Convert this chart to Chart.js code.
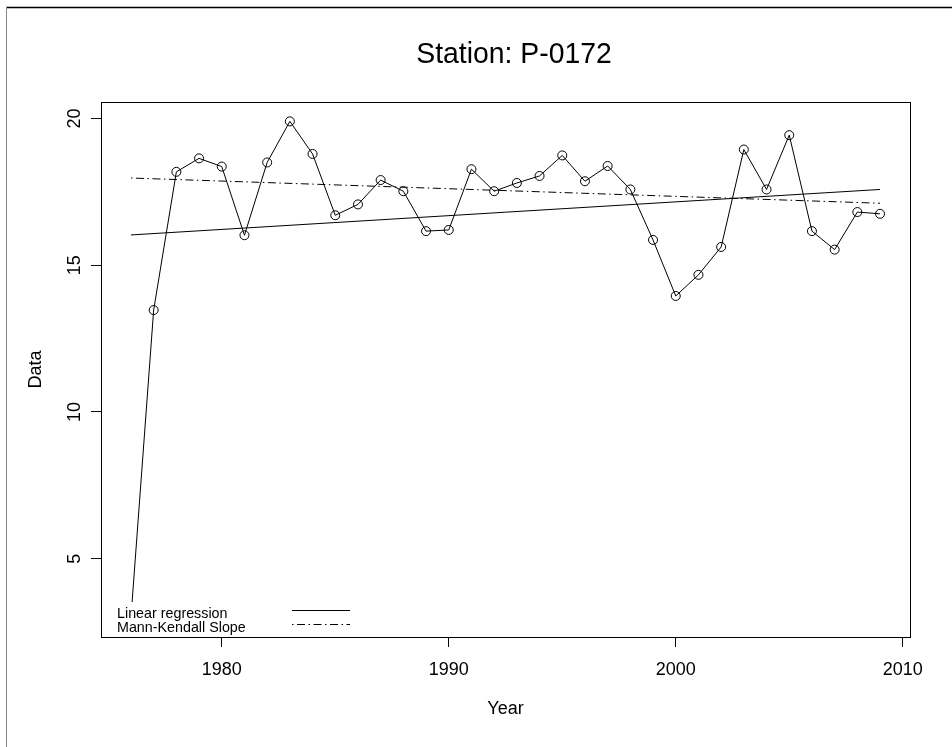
<!DOCTYPE html>
<html>
<head>
<meta charset="utf-8">
<script src="https://cdn.jsdelivr.net/npm/chart.js@4.4.0/dist/chart.umd.min.js"></script>
<style>
html, body { margin: 0; padding: 0; background: #fff; }
</style>
</head>
<body>
<canvas id="stationChart" width="952" height="747"></canvas>
<script>
const years = [1976, 1977, 1978, 1979, 1980, 1981, 1982, 1983, 1984, 1985, 1986, 1987,
    1988, 1989, 1990, 1991, 1992, 1993, 1994, 1995, 1996, 1997, 1998, 1999,
    2000, 2001, 2002, 2003, 2004, 2005, 2006, 2007, 2008, 2009];
const values = [3.0, 13.47, 18.18, 18.64, 18.36, 16.02, 18.50, 19.90, 18.79, 16.70, 17.07, 17.90,
    17.52, 16.16, 16.20, 18.27, 17.52, 17.80, 18.04, 18.74, 17.86, 18.38, 17.58, 15.86,
    13.95, 14.67, 15.62, 18.94, 17.58, 19.43, 16.16, 15.53, 16.81, 16.75];

// end points of the two trend lines
const trendYears = [1976, 2009];
const regressionValues = [16.03, 17.58];
const mannKendallValues = [17.97, 17.11];

const xTicks = [1980, 1990, 2000, 2010];
const yTicks = [5, 10, 15, 20];

const font = "'Liberation Sans', Arial, sans-serif";
const dotDash = [1.5, 3.5, 8, 3.5];

function toPoints(xs, ys) {
    return xs.map((x, i) => ({ x: x, y: ys[i] }))
}

// base-R look: outer frame, box, rotated y labels, title, legend
const rStyle = {
    id: 'rStyle',
    beforeDraw(chart) {
        const ctx = chart.ctx;
        ctx.save();
        ctx.strokeStyle = '#000';
        ctx.lineWidth = 1.5;
        ctx.beginPath();
        ctx.moveTo(6, 7.5);
        ctx.lineTo(952, 7.5);
        ctx.stroke();
        ctx.strokeStyle = '#888';
        ctx.lineWidth = 1;
        ctx.beginPath();
        ctx.moveTo(6.5, 7);
        ctx.lineTo(6.5, 747);
        ctx.stroke();
        ctx.restore();
    },
    afterDatasetsDraw(chart) {
        const ctx = chart.ctx;
        const area = chart.chartArea;
        ctx.save();
        // legend background hides what lies under it, as in the original
        ctx.fillStyle = '#fff';
        ctx.fillRect(area.left + 1, 602, 260, area.bottom - 602 - 1);
        ctx.fillStyle = '#000';
        ctx.font = '14.3px ' + font;
        ctx.textAlign = 'left';
        ctx.textBaseline = 'alphabetic';
        ctx.fillText('Linear regression', 117, 618);
        ctx.fillText('Mann-Kendall Slope', 117, 631.5);
        ctx.strokeStyle = '#000';
        ctx.lineWidth = 1;
        ctx.beginPath();
        ctx.moveTo(292, 610.5);
        ctx.lineTo(350, 610.5);
        ctx.stroke();
        ctx.setLineDash(dotDash);
        ctx.beginPath();
        ctx.moveTo(292, 624.5);
        ctx.lineTo(350, 624.5);
        ctx.stroke();
        ctx.restore();
    },
    afterDraw(chart) {
        const ctx = chart.ctx;
        const area = chart.chartArea;
        const yScale = chart.scales.y;
        ctx.save();
        ctx.strokeStyle = '#000';
        ctx.lineWidth = 1;
        ctx.strokeRect(area.left + 0.5, area.top + 0.5, area.right - area.left, area.bottom - area.top);

        ctx.fillStyle = '#000';
        ctx.font = '18px ' + font;
        ctx.textAlign = 'center';
        ctx.textBaseline = 'middle';
        yTicks.forEach(v => {
            ctx.save();
            ctx.translate(75, yScale.getPixelForValue(v));
            ctx.rotate(-Math.PI / 2);
            ctx.fillText(String(v), 0, 0);
            ctx.restore();
        });

        // title is a little condensed in the original
        ctx.save();
        ctx.translate(514, 55);
        ctx.scale(0.945, 1);
        ctx.font = '30px ' + font;
        ctx.fillText('Station: P-0172', 0, 0);
        ctx.restore();
        ctx.restore();
    }
};

let element = document.getElementById('stationChart')
new Chart(element.getContext('2d'), {
    type: 'line',

    data: {
        datasets: [{
            label: 'Data',
            data: toPoints(years, values),
            borderColor: '#000',
            borderWidth: 1,
            pointRadius: 4.5,
            pointBorderColor: '#000',
            pointBackgroundColor: 'rgba(0,0,0,0)',
            pointBorderWidth: 1,
            fill: false,
            tension: 0
        }, {
            label: 'Linear regression',
            data: toPoints(trendYears, regressionValues),
            borderColor: '#000',
            borderWidth: 1,
            pointRadius: 0,
            fill: false
        }, {
            label: 'Mann-Kendall Slope',
            data: toPoints(trendYears, mannKendallValues),
            borderColor: '#000',
            borderWidth: 1,
            borderDash: dotDash,
            pointRadius: 0,
            fill: false
        }]
    },

    options: {
        responsive: false,
        animation: false,
        layout: { padding: { top: 102, right: 42, left: 0, bottom: 0 } },
        plugins: {
            legend: { display: false },
            tooltip: { enabled: false },
            title: { display: false }
        },
        scales: {
            x: {
                type: 'linear',
                min: 1974.68,
                max: 2010.32,
                afterBuildTicks: scale => { scale.ticks = xTicks.map(v => ({ value: v })) },
                afterFit: scale => { scale.height = 110 },
                grid: { drawOnChartArea: false, drawTicks: true, tickLength: 10, color: '#000' },
                border: { display: true, color: '#000' },
                ticks: {
                    color: '#000',
                    padding: 12,
                    font: { family: font, size: 18 },
                    callback: v => String(v)
                },
                title: {
                    display: true,
                    text: 'Year',
                    color: '#000',
                    font: { family: font, size: 18 },
                    padding: { top: 0, bottom: 27 }
                }
            },
            y: {
                type: 'linear',
                min: 2.33,
                max: 20.56,
                afterBuildTicks: scale => { scale.ticks = yTicks.map(v => ({ value: v })) },
                afterFit: scale => { scale.width = 101 },
                grid: { drawOnChartArea: false, drawTicks: true, tickLength: 10, color: '#000' },
                border: { display: true, color: '#000' },
                ticks: { display: false },
                title: {
                    display: true,
                    text: 'Data',
                    color: '#000',
                    font: { family: font, size: 18 },
                    padding: { top: 25, bottom: 0 }
                }
            }
        }
    },
    plugins: [rStyle]
})
</script>
</body>
</html>
